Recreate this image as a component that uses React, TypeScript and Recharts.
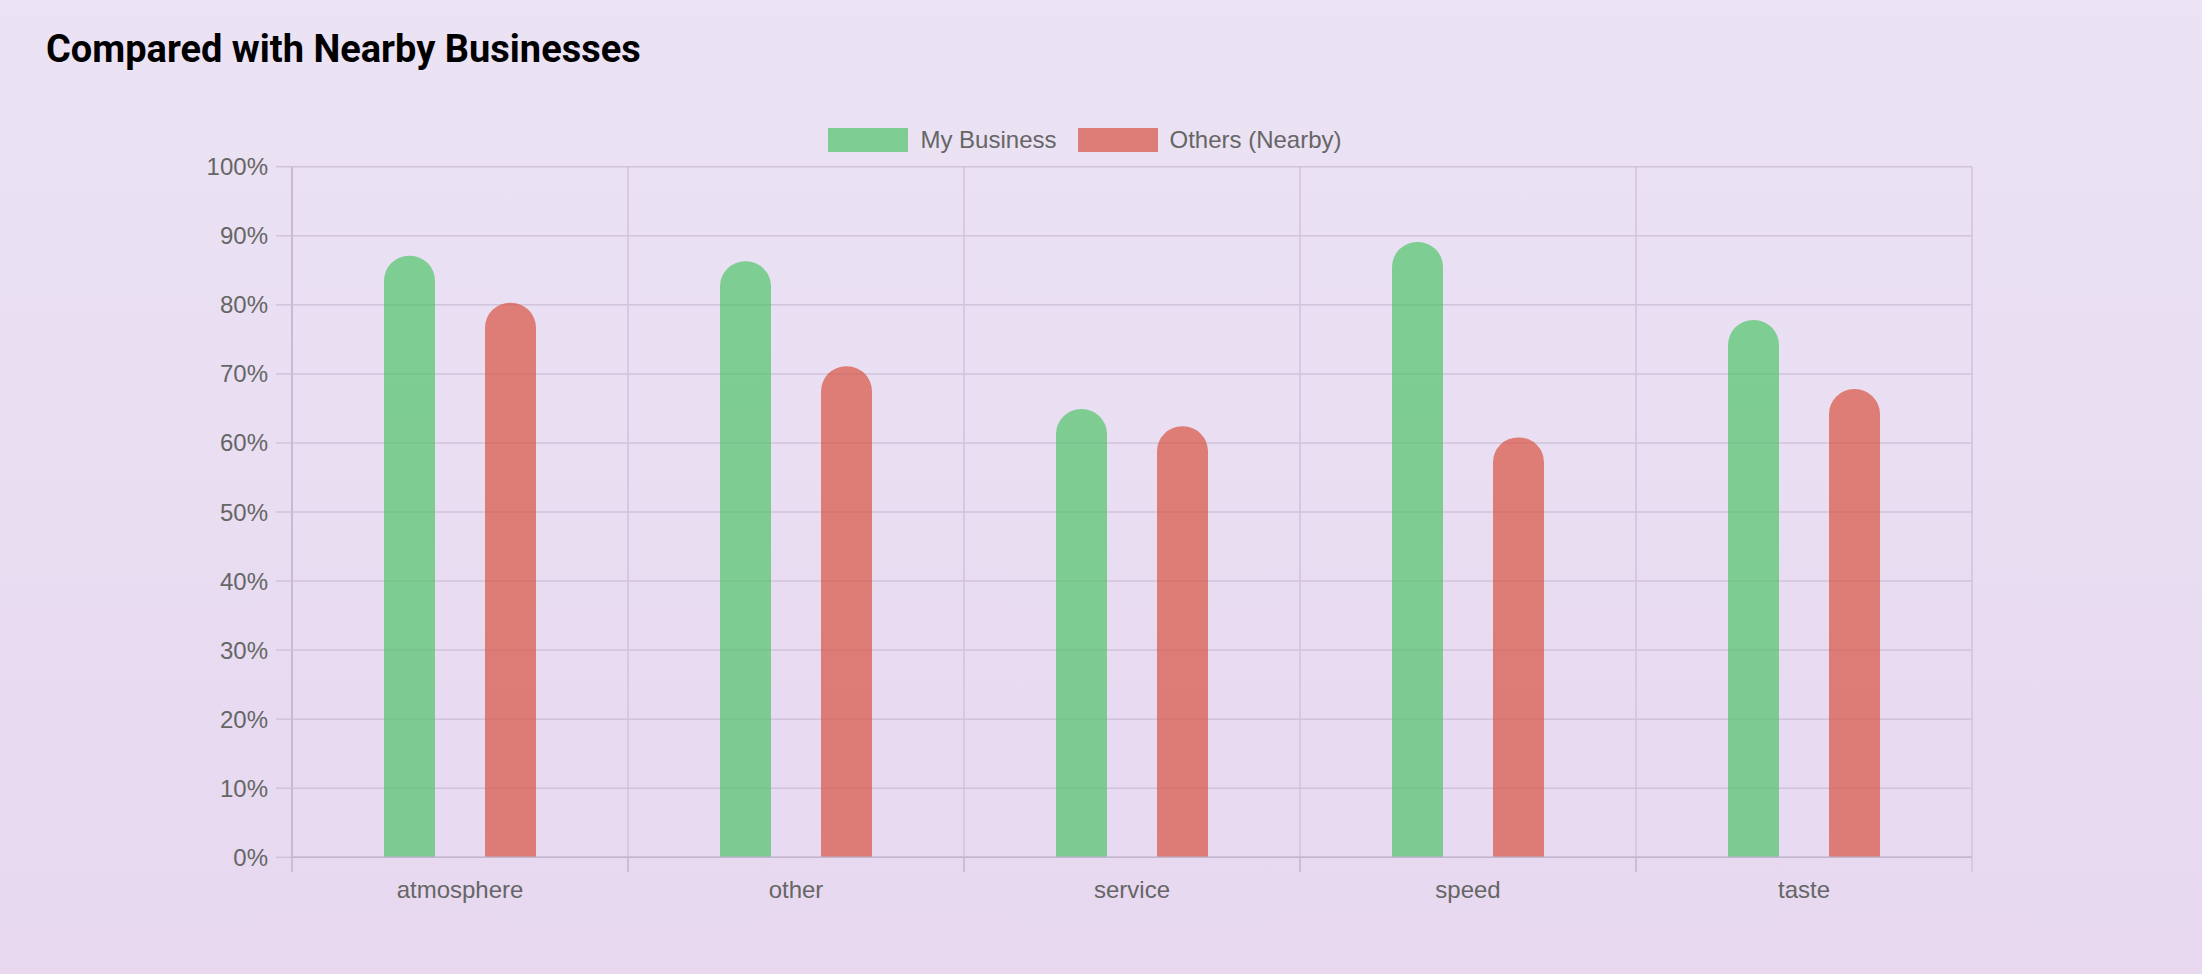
import { Bar, BarChart, CartesianGrid, XAxis, YAxis } from "recharts";

const categories = ["atmosphere", "other", "service", "speed", "taste"];
const myBusiness = [87.1, 86.3, 64.9, 89.1, 77.8];
const othersNearby = [80.3, 71.1, 62.4, 60.8, 67.8];
const yTicks = [0, 10, 20, 30, 40, 50, 60, 70, 80, 90, 100];

const seriesNames = ["My Business", "Others (Nearby)"];
const seriesColors = ["rgb(80,197,105)", "rgb(216,83,65)"];

const data = categories.map((name, i) => ({
  name,
  mine: myBusiness[i],
  others: othersNearby[i],
}));

const FONT = '"Liberation Sans", Arial, Helvetica, sans-serif';
const GRID = "#d0c3da";
const AXIS = "#c2b5cd";

function CategoryTick(props: any) {
  const { x, y, payload, index, width } = props;
  const band = width / categories.length;
  const left = x - band / 2;
  const right = x + band / 2;
  return (
    <g>
      <line x1={left} y1={y} x2={left} y2={y + 15} stroke={AXIS} strokeWidth={1.5} />
      {index === categories.length - 1 && (
        <line x1={right} y1={y} x2={right} y2={y + 15} stroke={GRID} strokeWidth={1.5} />
      )}
      <text x={x} y={y + 41} textAnchor="middle" fill="#666" fontSize={24} fontFamily={FONT}>
        {payload.value}
      </text>
    </g>
  );
}

function ChartLegend() {
  return (
    <div
      style={{
        position: "absolute",
        top: 128,
        left: 0,
        width: 2170,
        display: "flex",
        justifyContent: "center",
        alignItems: "center",
        fontFamily: FONT,
        height: 24,
      }}
    >
      {seriesNames.map((label, i) => (
        <div key={label} style={{ display: "flex", alignItems: "center", marginRight: i === 0 ? 21 : 0 }}>
          <span
            style={{
              display: "inline-block",
              width: 80,
              height: 24,
              background: seriesColors[i],
              opacity: 0.7,
              marginRight: 12,
            }}
          />
          <span style={{ fontSize: 24, lineHeight: "24px", color: "#666" }}>{label}</span>
        </div>
      ))}
    </div>
  );
}

export default function App() {
  return (
    <div
      style={{
        position: "absolute",
        left: 0,
        top: 0,
        width: 2202,
        height: 974,
        background: "linear-gradient(180deg, #ebe3f4 0%, #e7d8f0 100%)",
        overflow: "hidden",
      }}
    >
      <div
        style={{
          position: "absolute",
          left: 46,
          top: 30,
          fontFamily: "Roboto, sans-serif",
          fontWeight: 700,
          fontSize: 38,
          lineHeight: 1,
          color: "#000",
        }}
      >
        Compared with Nearby Businesses
      </div>
      <ChartLegend />
      <div style={{ position: "absolute", left: 0, top: 0 }}>
        <BarChart
          width={2202}
          height={974}
          data={data}
          margin={{ top: 166.7, right: 230, bottom: 86.7, left: 0 }}
          barGap={50}
          barSize={51}
        >
          <CartesianGrid
            stroke={GRID}
            strokeWidth={1.5}
            verticalCoordinatesGenerator={({ offset }: any) =>
              categories
                .map((_, i) => offset.left + (i * offset.width) / categories.length)
                .concat(offset.left + offset.width)
            }
          />
          <XAxis
            dataKey="name"
            height={30}
            axisLine={{ stroke: AXIS, strokeWidth: 1.5 }}
            tickLine={false}
            tickSize={0}
            tickMargin={0}
            interval={0}
            tick={<CategoryTick />}
          />
          <YAxis
            width={292}
            domain={[0, 100]}
            ticks={yTicks}
            interval={0}
            tickFormatter={(v: number) => `${v}%`}
            axisLine={{ stroke: AXIS, strokeWidth: 1.5 }}
            tickLine={{ stroke: GRID, strokeWidth: 1.5 }}
            tickSize={16}
            tickMargin={8}
            tick={{ fill: "#666", fontSize: 24, fontFamily: FONT }}
          />
          <Bar
            dataKey="mine"
            name={seriesNames[0]}
            fill={seriesColors[0]}
            fillOpacity={0.7}
            radius={[25, 25, 0, 0]}
            isAnimationActive={false}
          />
          <Bar
            dataKey="others"
            name={seriesNames[1]}
            fill={seriesColors[1]}
            fillOpacity={0.7}
            radius={[25, 25, 0, 0]}
            isAnimationActive={false}
          />
        </BarChart>
      </div>
    </div>
  );
}
